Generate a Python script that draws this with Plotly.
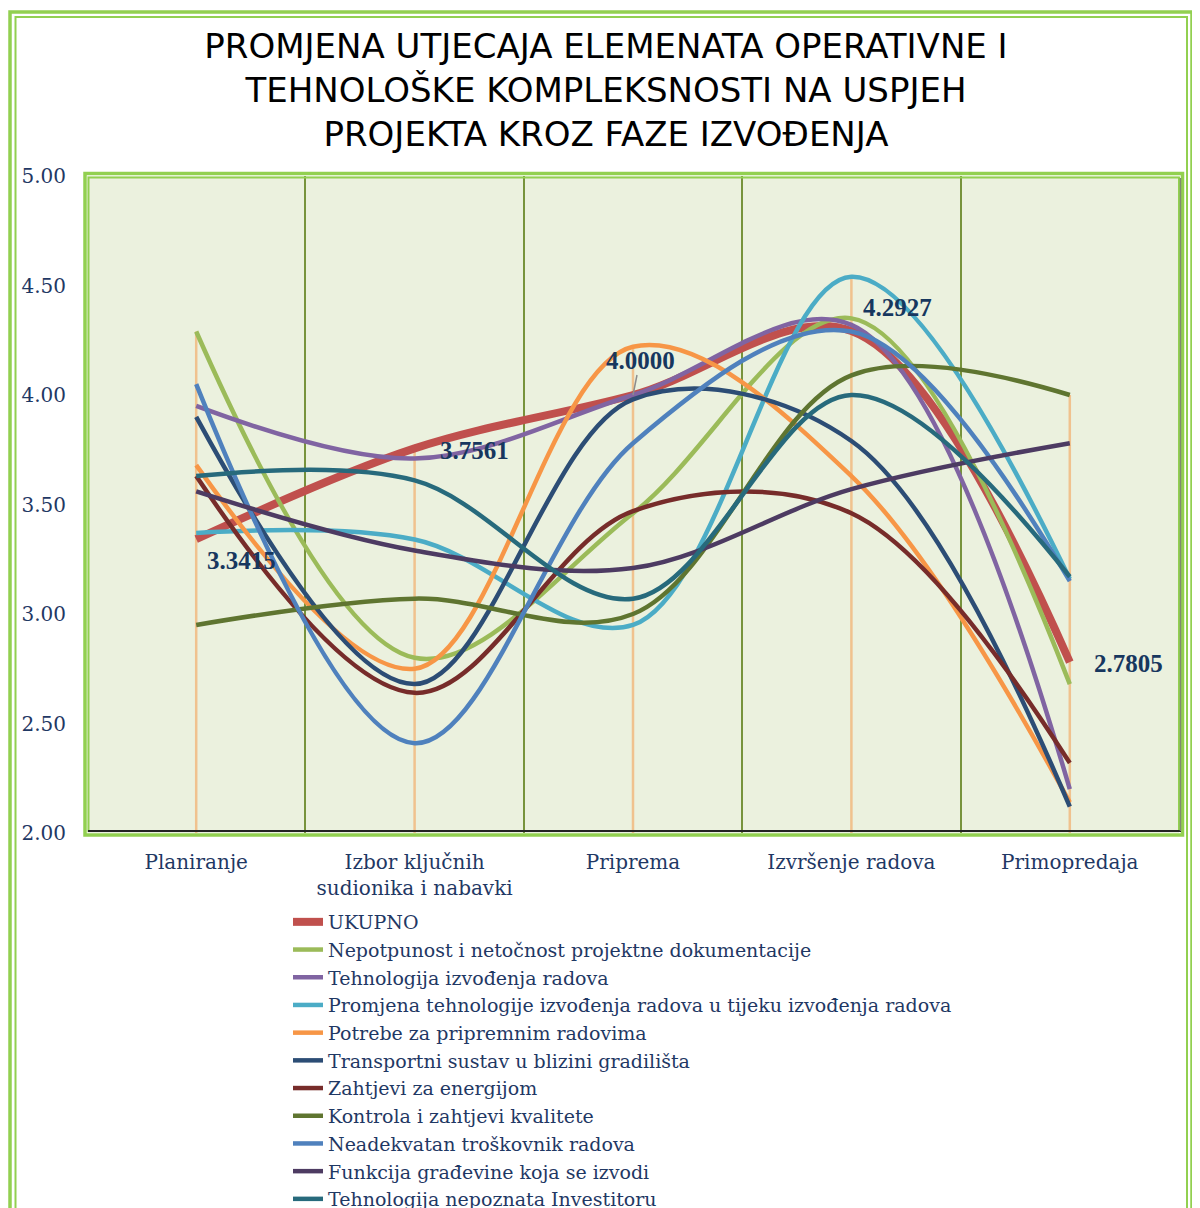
import plotly.graph_objects as go

categories = ["Planiranje", "Izbor ključnih<br>sudionika i nabavki", "Priprema",
              "Izvršenje radova", "Primopredaja"]

series_names = [
    "UKUPNO",
    "Nepotpunost i netočnost projektne dokumentacije",
    "Tehnologija izvođenja radova",
    "Promjena tehnologije izvođenja radova u tijeku izvođenja radova",
    "Potrebe za pripremnim radovima",
    "Transportni sustav u blizini gradilišta",
    "Zahtjevi za energijom",
    "Kontrola i zahtjevi kvalitete",
    "Neadekvatan troškovnik radova",
    "Funkcija građevine koja se izvodi",
    "Tehnologija nepoznata Investitoru",
]

ukupno = [3.3415, 3.7561, 4.0000, 4.2927, 2.7805]
nepotpunost = [4.29, 2.80, 3.46, 4.35, 2.68]
tehnologija_izvodenja = [3.95, 3.71, 4.00, 4.32, 2.20]
promjena_tehnologije = [3.37, 3.34, 2.95, 4.54, 3.16]
potrebe = [3.68, 2.75, 4.22, 3.63, 2.14]
transportni = [3.90, 2.68, 3.98, 3.79, 2.12]
zahtjevi_energija = [3.63, 2.64, 3.47, 3.46, 2.32]
kontrola_kvalitete = [2.95, 3.07, 3.00, 4.09, 4.00]
neadekvatan_troskovnik = [4.05, 2.41, 3.78, 4.29, 3.15]
funkcija_gradevine = [3.56, 3.29, 3.21, 3.57, 3.78]
tehnologija_nepoznata = [3.63, 3.61, 3.07, 4.00, 3.17]

series_values = [ukupno, nepotpunost, tehnologija_izvodenja, promjena_tehnologije,
                 potrebe, transportni, zahtjevi_energija, kontrola_kvalitete,
                 neadekvatan_troskovnik, funkcija_gradevine, tehnologija_nepoznata]

colors = ["#C0504D", "#9BBB59", "#8064A2", "#4BACC6", "#F79646", "#2C4D75",
          "#772C2A", "#5F7530", "#4F81BD", "#4D3B62", "#276A7C"]
widths = [8, 4.5, 4.5, 4.5, 4.5, 4.5, 4.5, 4.5, 4.5, 4.5, 4.5]

y_min, y_max = 2.0, 5.0
y_ticks = [2.0, 2.5, 3.0, 3.5, 4.0, 4.5, 5.0]

# label offsets (pixels) for the UKUPNO data labels
label_shift = [(45, -21), (60, -2), (5, 35), (46, 23), (59, -1)]

OFF = 8  # browser body margin
W, H = 1200 - OFF, 1208 - OFF
L, T = 87 - OFF, 176 - OFF
R = W - (1179 - OFF)
B = H - (833 - OFF)
PW, PH = W - L - R, H - T - B
def px(x):  # screen x -> paper
    return (x - OFF - L) / PW
def py(y):  # screen y -> paper
    return (H - B - (y - OFF)) / PH

navy = "#1F3864"
serif = "DejaVu Serif"
fig = go.Figure()

# drop lines from highest point to the axis at each category
dx, dy = [], []
for i, c in enumerate(categories):
    top = max(s[i] for s in series_values)
    dx += [c, c, None]
    dy += [top, y_min, None]
fig.add_trace(go.Scatter(x=dx, y=dy, mode="lines", showlegend=False, hoverinfo="skip",
                         line=dict(color="#F0C28E", width=2.5)))

for name, vals, col, w in zip(series_names, series_values, colors, widths):
    fig.add_trace(go.Scatter(x=categories, y=vals, name=name, mode="lines",
                             line=dict(color=col, width=w, shape="spline", smoothing=1.0)))

lab_font = dict(family="Liberation Serif", size=25, color="#17375E", weight="bold")
for i, (c, v) in enumerate(zip(categories, ukupno)):
    sx, sy = label_shift[i]
    if i == 2:
        fig.add_annotation(x=c, y=v, text=f"{v:.4f}", showarrow=True, ax=sx + 2, ay=-sy,
                           arrowhead=0, arrowwidth=1.5, arrowcolor="#8C8C8C", font=lab_font)
    else:
        fig.add_annotation(x=c, y=v, text=f"{v:.4f}", showarrow=False, xshift=sx, yshift=sy,
                           font=lab_font)

shapes = [
    # page frame
    dict(type="rect", xref="paper", yref="paper", x0=px(10), x1=px(1192), y0=py(1270), y1=py(12),
         line=dict(color="#92D050", width=3.5), layer="above"),
    dict(type="rect", xref="paper", yref="paper", x0=px(15.5), x1=px(1187), y0=py(1270), y1=py(17),
         line=dict(color="#92D050", width=2), layer="above"),
    # plot frame
    dict(type="rect", xref="paper", yref="paper", x0=px(85), x1=px(1182.5), y0=py(835), y1=py(173.5),
         line=dict(color="#92D050", width=3.5), layer="above"),
    dict(type="rect", xref="paper", yref="paper", x0=px(88.5), x1=px(1179), y0=py(831), y1=py(177.5),
         line=dict(color="#92D050", width=2), layer="above"),
    dict(type="line", xref="paper", yref="paper", x0=px(88), x1=px(1181), y0=py(831), y1=py(831),
         line=dict(color="#222222", width=2), layer="above"),
    dict(type="line", xref="paper", yref="paper", x0=px(1180.5), x1=px(1180.5), y0=py(831), y1=py(178),
         line=dict(color="#7F8A70", width=1.5), layer="above"),
]

fig.update_layout(
    width=W, height=H,
    margin=dict(l=L, r=R, t=T, b=B, autoexpand=False),
    paper_bgcolor="white",
    plot_bgcolor="#EBF1DE",
    title=dict(
        text="PROMJENA UTJECAJA ELEMENATA OPERATIVNE I<br>TEHNOLOŠKE KOMPLEKSNOSTI NA USPJEH<br>PROJEKTA KROZ FAZE IZVOĐENJA",
        x=(606 - OFF) / W, xanchor="center", y=1 - 50 / H, yanchor="top",
        font=dict(family="DejaVu Sans", size=34, color="black"),
    ),
    showlegend=True,
    legend=dict(
        x=px(288), xanchor="left", y=py(903), yanchor="top",
        font=dict(family=serif, size=19, color=navy),
        bgcolor="rgba(0,0,0,0)", tracegroupgap=0, orientation="v",
    ),
    shapes=shapes,
)

fig.update_xaxes(
    type="category", categoryorder="array", categoryarray=categories,
    range=[-0.5, len(categories) - 0.5],
    tickson="boundaries", showgrid=True, gridcolor="#77933C", gridwidth=1.5,
    ticks="", showline=False, zeroline=False,
    tickfont=dict(family=serif, size=20, color=navy),
    ticklabelstandoff=15,
)
fig.update_yaxes(
    range=[y_min, y_max], tickvals=y_ticks, tickformat=".2f",
    showgrid=False, zeroline=False, showline=False, ticks="",
    tickfont=dict(family=serif, size=20, color=navy),
    ticklabelstandoff=20,
)

fig.write_html("out.html")
